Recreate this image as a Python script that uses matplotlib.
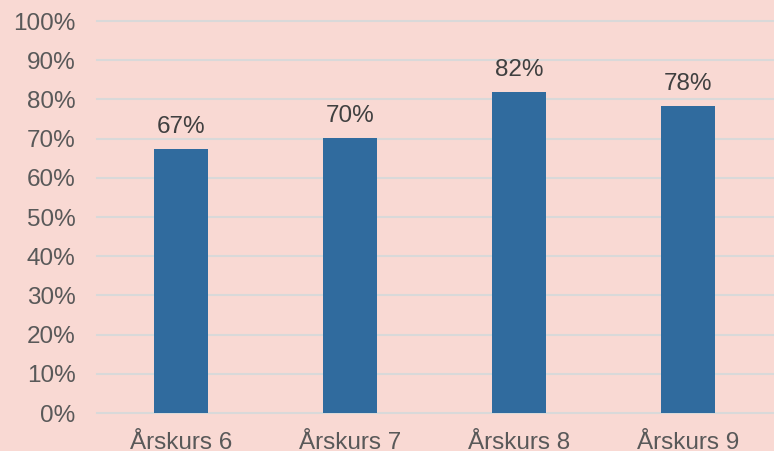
import matplotlib.pyplot as plt
from matplotlib.ticker import PercentFormatter

# data
categories = ["Årskurs 6", "Årskurs 7", "Årskurs 8", "Årskurs 9"]
values = [0.673, 0.702, 0.819, 0.783]
labels = ["67%", "70%", "82%", "78%"]

bg = "#F9D9D3"
bar_color = "#306B9E"
grid_color = "#D9D9D9"

plt.rcParams["font.family"] = ["Liberation Sans", "DejaVu Sans"]

fig = plt.figure(figsize=(7.74, 4.51), dpi=100, facecolor=bg)
ax = fig.add_axes((96.5 / 774, 1 - 413 / 451, 676 / 774, 392 / 451))
ax.set_facecolor(bg)

x = range(len(categories))
ax.bar(x, values, width=0.315, color=bar_color, zorder=3)
for xi, v, t in zip(x, values, labels):
    ax.annotate(t, (xi, v), xytext=(0, 8), textcoords="offset points",
                ha="center", va="bottom", fontsize=17.5, color="#404040")

ax.set_xlim(-0.5, 3.5)
ax.set_ylim(0, 1)
ax.set_yticks([i / 10 for i in range(11)])
ax.yaxis.set_major_formatter(PercentFormatter(1.0, decimals=0))
ax.set_xticks(list(x))
ax.set_xticklabels(categories)
ax.tick_params(axis="both", length=0, labelsize=17.5, labelcolor="#595959")
ax.tick_params(axis="x", pad=14)
ax.tick_params(axis="y", pad=15)

ax.grid(axis="y", color=grid_color, linewidth=1.5, zorder=0)
for gl in ax.get_ygridlines():
    gl.set_clip_on(False)
for s in ax.spines.values():
    s.set_visible(False)

fig.savefig("out.png", dpi=100, facecolor=bg)
